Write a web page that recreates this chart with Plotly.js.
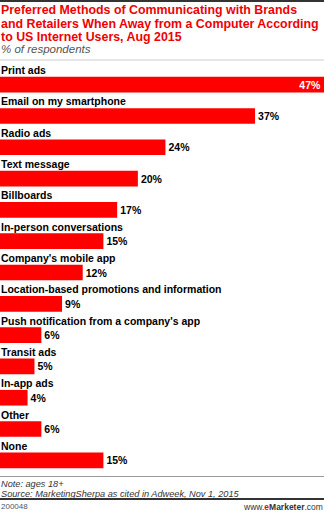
<!DOCTYPE html>
<html>
<head>
<meta charset="utf-8">
<script src="https://cdn.plot.ly/plotly-3.0.1.min.js"></script>
<style>
html,body{margin:0;padding:0;background:#fff;}
#chart{width:324px;height:513px;}
</style>
</head>
<body>
<div id="chart"></div>
<script>
const categories = [
  "Print ads",
  "Email on my smartphone",
  "Radio ads",
  "Text message",
  "Billboards",
  "In-person conversations",
  "Company's mobile app",
  "Location-based promotions and information",
  "Push notification from a company's app",
  "Transit ads",
  "In-app ads",
  "Other",
  "None"
];
const values = [47, 37, 24, 20, 17, 15, 12, 9, 6, 5, 4, 6, 15];
const titleLines = [
  "Preferred Methods of Communicating with Brands",
  "and Retailers When Away from a Computer According",
  "to US Internet Users, Aug 2015"
];
const subtitle = "% of respondents";
const noteText = "Note: ages 18+";
const sourceText = "Source: MarketingSherpa as cited in Adweek, Nov 1, 2015";
const chartId = "200048";

const W = 324, H = 513, T = 69, B = 37;
const PH = H - T - B;
function py(p){ return 1 - (p - T) / PH; }
const FONT = "Liberation Sans, Arial, sans-serif";

const maxV = Math.max(...values);
const positions = values.map(v => v === maxV ? "inside" : "outside");

const trace = {
  type: "bar",
  orientation: "h",
  x: values,
  y: categories,
  marker: {color: "#ff0000", line: {width: 0}},
  text: values.map(v => v + "%"),
  textposition: positions,
  insidetextanchor: "end",
  constraintext: "none",
  textangle: 0,
  cliponaxis: false,
  insidetextfont: {family: FONT, size: 10.5, color: "#ffffff", weight: "bold"},
  outsidetextfont: {family: FONT, size: 10.5, color: "#000000", weight: "bold"},
  hoverinfo: "skip"
};

const annotations = [];
titleLines.forEach((t, i) => {
  annotations.push({
    text: t, xref: "paper", yref: "paper", x: 0, y: py(10 + i * 13.5),
    xanchor: "left", yanchor: "middle", showarrow: false, xshift: -1,
    font: {family: FONT, size: 12.4, color: "#f00000", weight: "bold"}
  });
});
annotations.push({
  text: "<i>" + subtitle + "</i>", xref: "paper", yref: "paper", x: 0, y: py(49.5),
  xanchor: "left", yanchor: "middle", showarrow: false, xshift: -1,
  font: {family: FONT, size: 11.5, color: "#555555"}
});
categories.forEach(c => {
  annotations.push({
    text: c, xref: "paper", yref: "y", x: 0, y: c, yshift: 14.5,
    xanchor: "left", yanchor: "middle", showarrow: false, xshift: -1,
    font: {family: FONT, size: 10.5, color: "#000000", weight: "bold"}
  });
});
annotations.push({
  text: "<i>" + noteText + "</i>", xref: "paper", yref: "paper", x: 0, y: py(483.5),
  xanchor: "left", yanchor: "middle", showarrow: false, xshift: -1,
  font: {family: FONT, size: 9.2, color: "#333333"}
});
annotations.push({
  text: "<i>" + sourceText + "</i>", xref: "paper", yref: "paper", x: 0, y: py(494),
  xanchor: "left", yanchor: "middle", showarrow: false, xshift: -1,
  font: {family: FONT, size: 9.2, color: "#333333"}
});
annotations.push({
  text: chartId, xref: "paper", yref: "paper", x: 0, y: py(507),
  xanchor: "left", yanchor: "middle", showarrow: false, xshift: -1,
  font: {family: FONT, size: 8, color: "#555555"}
});
annotations.push({
  text: "www.<b><span style='color:#ff0000'>e</span>Marketer</b>.com", xref: "paper", yref: "paper", x: 1, y: py(507),
  xanchor: "right", yanchor: "middle", showarrow: false, xshift: 1,
  font: {family: FONT, size: 8.5, color: "#333333"}
});

const shapes = [
  {type: "line", xref: "paper", yref: "paper", x0: 0, x1: 1, y0: py(1), y1: py(1), line: {color: "#333333", width: 2}},
  {type: "line", xref: "paper", yref: "paper", x0: 0, x1: 1, y0: py(60), y1: py(60), line: {color: "#cccccc", width: 1}},
  {type: "line", xref: "paper", yref: "paper", x0: 0, x1: 1, y0: py(476.5), y1: py(476.5), line: {color: "#999999", width: 1}},
  {type: "line", xref: "paper", yref: "paper", x0: 0, x1: 1, y0: py(499), y1: py(499), line: {color: "#333333", width: 2}}
];

const layout = {
  width: W, height: H,
  margin: {l: 0, r: 0, t: T, b: B, pad: 0},
  paper_bgcolor: "#ffffff", plot_bgcolor: "#ffffff",
  showlegend: false,
  bargap: 0.5,
  xaxis: {range: [0, maxV], visible: false, fixedrange: true},
  yaxis: {range: [categories.length - 0.5, -0.5], visible: false, fixedrange: true},
  annotations: annotations,
  shapes: shapes
};

Plotly.newPlot("chart", [trace], layout, {staticPlot: true, displayModeBar: false});
</script>
</body>
</html>
